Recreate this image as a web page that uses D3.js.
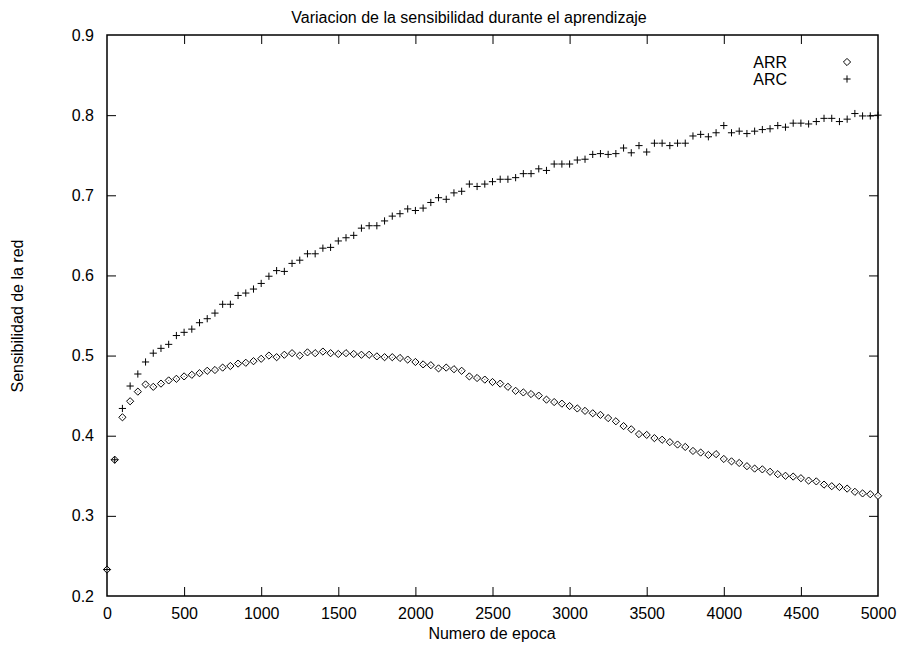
<!DOCTYPE html>
<html>
<head>
<meta charset="utf-8">
<script src="https://cdn.jsdelivr.net/npm/d3@7"></script>
<style>
  html, body { margin: 0; padding: 0; background: #fff; }
  svg text { font-family: "Liberation Sans", Arial, Helvetica, sans-serif; fill: #000; }
</style>
</head>
<body>
<svg id="chart" width="901" height="645"></svg>
<script>
// Epochs sampled every 50 iterations, 0..5000
const epocas = d3.range(0, 5001, 50);

// Sensitivity of the ARR network at each epoch
const arr = [
  0.233, 0.370, 0.423, 0.443, 0.455, 0.464, 0.461, 0.465, 0.469, 0.471,
  0.474, 0.476, 0.478, 0.481, 0.482, 0.485, 0.487, 0.490, 0.491, 0.493,
  0.496, 0.500, 0.498, 0.501, 0.503, 0.500, 0.504, 0.503, 0.505, 0.503,
  0.502, 0.503, 0.502, 0.501, 0.501, 0.499, 0.498, 0.498, 0.497, 0.495,
  0.492, 0.489, 0.488, 0.484, 0.485, 0.483, 0.481, 0.474, 0.472, 0.470,
  0.467, 0.465, 0.461, 0.456, 0.454, 0.452, 0.450, 0.445, 0.442, 0.440,
  0.437, 0.434, 0.431, 0.428, 0.426, 0.422, 0.418, 0.412, 0.408, 0.402,
  0.401, 0.397, 0.395, 0.392, 0.389, 0.386, 0.381, 0.379, 0.376, 0.377,
  0.371, 0.368, 0.366, 0.362, 0.359, 0.358, 0.355, 0.352, 0.350, 0.349,
  0.347, 0.344, 0.343, 0.339, 0.337, 0.336, 0.334, 0.330, 0.328, 0.327,
  0.325
];

// Sensitivity of the ARC network at each epoch
const arc = [
  0.233, 0.370, 0.434, 0.462, 0.477, 0.492, 0.503, 0.509, 0.514, 0.525,
  0.529, 0.533, 0.541, 0.546, 0.553, 0.564, 0.564, 0.575, 0.578, 0.583,
  0.590, 0.599, 0.606, 0.605, 0.615, 0.619, 0.627, 0.627, 0.634, 0.635,
  0.643, 0.647, 0.650, 0.659, 0.662, 0.662, 0.668, 0.674, 0.677, 0.683,
  0.681, 0.684, 0.691, 0.697, 0.695, 0.703, 0.705, 0.714, 0.711, 0.714,
  0.717, 0.720, 0.720, 0.722, 0.727, 0.727, 0.733, 0.731, 0.739, 0.739,
  0.739, 0.744, 0.745, 0.751, 0.752, 0.751, 0.752, 0.759, 0.753, 0.762,
  0.754, 0.765, 0.765, 0.762, 0.765, 0.765, 0.774, 0.776, 0.773, 0.778,
  0.787, 0.778, 0.780, 0.777, 0.780, 0.782, 0.783, 0.787, 0.785, 0.790,
  0.790, 0.789, 0.792, 0.796, 0.796, 0.792, 0.795, 0.802, 0.799, 0.799,
  0.800
];

const xTicks = [0, 500, 1000, 1500, 2000, 2500, 3000, 3500, 4000, 4500, 5000];
const yTicks = [0.2, 0.3, 0.4, 0.5, 0.6, 0.7, 0.8, 0.9];

const titulo = "Variacion de la sensibilidad durante el aprendizaje";
const etiquetaX = "Numero de epoca";
const etiquetaY = "Sensibilidad de la red";

const svg = d3.select("#chart");
const plotLeft = 107, plotRight = 878, plotTop = 35, plotBottom = 596;
const fontSize = 16;

const x = d3.scaleLinear().domain([0, 5000]).range([plotLeft, plotRight]);
const y = d3.scaleLinear().domain([0.2, 0.9]).range([plotBottom, plotTop]);

// Axes with inward ticks, mirrored on the opposite sides
const tickLen = 9;
const axB = svg.append("g").attr("transform", `translate(0,${plotBottom})`)
  .call(d3.axisBottom(x).tickValues(xTicks).tickSizeInner(-tickLen).tickSizeOuter(0)
        .tickPadding(12).tickFormat(d3.format("d")));
const axT = svg.append("g").attr("transform", `translate(0,${plotTop})`)
  .call(d3.axisTop(x).tickValues(xTicks).tickSizeInner(-tickLen).tickSizeOuter(0).tickFormat(""));
const axL = svg.append("g").attr("transform", `translate(${plotLeft},0)`)
  .call(d3.axisLeft(y).tickValues(yTicks).tickSizeInner(-tickLen).tickSizeOuter(0)
        .tickPadding(13).tickFormat(d3.format(".1f")));
const axR = svg.append("g").attr("transform", `translate(${plotRight},0)`)
  .call(d3.axisRight(y).tickValues(yTicks).tickSizeInner(-tickLen).tickSizeOuter(0).tickFormat(""));

[axB, axT, axL, axR].forEach(g => {
  g.select(".domain").remove();
  g.selectAll("line").attr("stroke", "#000").attr("stroke-width", 1);
  g.selectAll("text").attr("font-size", fontSize)
    .attr("font-family", "'Liberation Sans', Arial, sans-serif").attr("fill", "#000");
});
// the extreme ticks coincide with the frame
axB.selectAll(".tick").filter(d => d === 0 || d === 5000).select("line").remove();
axT.selectAll(".tick").filter(d => d === 0 || d === 5000).select("line").remove();
axL.selectAll(".tick").filter(d => d === 0.2 || d === 0.9).select("line").remove();
axR.selectAll(".tick").filter(d => d === 0.2 || d === 0.9).select("line").remove();

// Plot frame
svg.append("rect")
  .attr("x", plotLeft).attr("y", plotTop)
  .attr("width", plotRight - plotLeft).attr("height", plotBottom - plotTop)
  .attr("fill", "none").attr("stroke", "#000").attr("stroke-width", 1.5);

// Point glyphs
const r = 3.6;
const diamond = `M0,${-r}L${r},0L0,${r}L${-r},0Z`;
const plus = `M${-r},0H${r}M0,${-r}V${r}`;

const gArr = svg.append("g");
gArr.selectAll("path")
  .data(epocas.map((e, i) => [e, arr[i]]))
  .join("path")
  .attr("transform", d => `translate(${x(d[0])},${y(d[1])})`)
  .attr("d", diamond)
  .attr("fill", "#fff").attr("stroke", "#000").attr("stroke-width", 1);
gArr.selectAll("circle")
  .data(epocas.map((e, i) => [e, arr[i]]))
  .join("circle")
  .attr("cx", d => x(d[0])).attr("cy", d => y(d[1])).attr("r", 0.5)
  .attr("fill", "#444");

svg.append("g").selectAll("path")
  .data(epocas.map((e, i) => [e, arc[i]]))
  .join("path")
  .attr("transform", d => `translate(${x(d[0])},${y(d[1])})`)
  .attr("d", plus)
  .attr("fill", "none").attr("stroke", "#000").attr("stroke-width", 1);

// Legend
const legend = svg.append("g");
const legendItems = [
  { name: "ARR", glyph: diamond, fill: "#fff" },
  { name: "ARC", glyph: plus, fill: "none" }
];
legendItems.forEach((it, i) => {
  const ly = 62 + i * 17;
  legend.append("text").attr("x", 787).attr("y", ly).attr("dy", "0.35em")
    .attr("text-anchor", "end").attr("font-size", fontSize).text(it.name);
  legend.append("path").attr("transform", `translate(847,${ly})`)
    .attr("d", it.glyph).attr("fill", it.fill).attr("stroke", "#000").attr("stroke-width", 1);
});

// Titles
svg.append("text").attr("x", 469).attr("y", 23).attr("text-anchor", "middle")
  .attr("font-size", fontSize).text(titulo);
svg.append("text").attr("x", 492).attr("y", 639).attr("text-anchor", "middle")
  .attr("font-size", fontSize).text(etiquetaX);
svg.append("text").attr("transform", "translate(23,316) rotate(-90)")
  .attr("text-anchor", "middle").attr("font-size", fontSize).text(etiquetaY);
</script>
</body>
</html>
